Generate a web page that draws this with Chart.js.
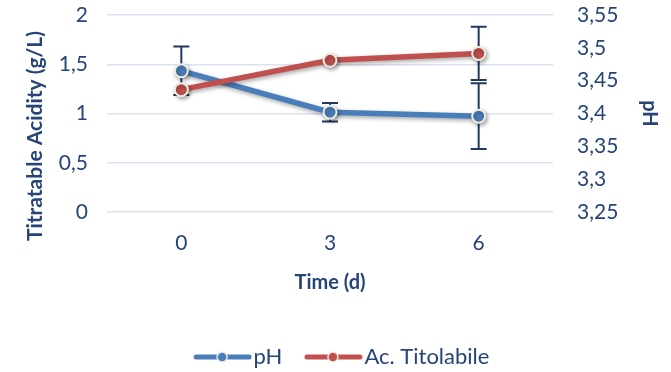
<!DOCTYPE html>
<html>
<head>
<meta charset="UTF-8">
<title>pH / Ac. Titolabile</title>
<style>
  body { margin: 0; background: #fff; }
  #wrap { width: 671px; height: 372px; }
</style>
<script src="https://cdn.jsdelivr.net/npm/chart.js"></script>
</head>
<body>
<div id="wrap"><canvas id="chart" width="671" height="372"></canvas></div>
<script>
// dati
const timeLabels = ['0', '3', '6'];
const phValues = [3.465, 3.402, 3.396];
const phErr = [0.037, 0.014, 0.05];
const acidValues = [1.242, 1.54, 1.61];
const acidErr = [0, 0, 0.27];
const leftTickLabels = ['0', '0,5', '1', '1,5', '2'];
const rightTickLabels = ['3,25', '3,3', '3,35', '3,4', '3,45', '3,5', '3,55'];

const TEXT = '#264478';
const BLUE = '#4a7ebb';
const RED = '#c0504d';
const CREAM = '#eeece1';
const FONT = 'Lato, "Open Sans", sans-serif';
const FS = 21;

// simbolo legenda: linea con pallino, spostato a destra dentro l'immagine
function legendSymbol(color) {
  const c = document.createElement('canvas');
  c.width = 80; c.height = 14;
  const g = c.getContext('2d');
  g.strokeStyle = color; g.lineWidth = 5; g.lineCap = 'round';
  g.beginPath(); g.moveTo(24, 7); g.lineTo(77, 7); g.stroke();
  g.beginPath(); g.arc(50, 7, 5, 0, Math.PI * 2);
  g.fillStyle = color; g.fill();
  g.lineWidth = 1.5; g.strokeStyle = CREAM; g.stroke();
  return c;
}
const symbols = [legendSymbol(BLUE), legendSymbol(RED)];

// barre d'errore disegnate sotto le serie
const errorBars = {
  id: 'errorBars',
  beforeDatasetsDraw(chart) {
    const ctx = chart.ctx;
    const xs = chart.scales.x;
    const sets = [[phValues, phErr, 'y1'], [acidValues, acidErr, 'y']];
    ctx.save();
    ctx.strokeStyle = '#1f3a60';
    ctx.lineWidth = 2;
    sets.forEach(([vals, errs, axis]) => {
      const ys = chart.scales[axis];
      vals.forEach((v, i) => {
        if (!errs[i]) return;
        const px = xs.getPixelForValue(i);
        const top = ys.getPixelForValue(v + errs[i]);
        const bot = ys.getPixelForValue(v - errs[i]);
        ctx.beginPath();
        ctx.moveTo(px, top); ctx.lineTo(px, bot);
        ctx.moveTo(px - 8, top); ctx.lineTo(px + 8, top);
        ctx.moveTo(px - 8, bot); ctx.lineTo(px + 8, bot);
        ctx.stroke();
      });
    });
    ctx.restore();
  }
};

// ombra leggera su linee e marcatori
const shadow = {
  id: 'shadow',
  beforeDatasetDraw(chart) {
    const ctx = chart.ctx;
    ctx.save();
    ctx.shadowColor = 'rgba(0,0,0,0.35)';
    ctx.shadowBlur = 4;
    ctx.shadowOffsetX = 1.5;
    ctx.shadowOffsetY = 2;
  },
  afterDatasetDraw(chart) {
    chart.ctx.restore();
  }
};

// titolo asse sinistro (centrato come nell'originale)
const leftTitle = {
  id: 'leftTitle',
  afterDraw(chart) {
    const ctx = chart.ctx;
    ctx.save();
    ctx.translate(35, 136);
    ctx.rotate(-Math.PI / 2);
    ctx.font = 'bold 21px ' + FONT;
    ctx.fillStyle = TEXT;
    ctx.textAlign = 'center';
    ctx.textBaseline = 'middle';
    ctx.fillText('Titratable Acidity (g/L)', 0, 0);
    ctx.restore();
  }
};

new Chart(document.getElementById('chart'), {
  type: 'line',
  data: {
    labels: timeLabels,
    datasets: [
      {
        label: 'pH',
        data: phValues,
        yAxisID: 'y1',
        order: 1,
        borderColor: BLUE,
        backgroundColor: BLUE,
        borderWidth: 5.5,
        pointRadius: 6.5,
        pointBorderWidth: 2,
        pointBorderColor: CREAM,
        pointBackgroundColor: BLUE,
        tension: 0
      },
      {
        label: 'Ac. Titolabile',
        data: acidValues,
        yAxisID: 'y',
        order: 0,
        borderColor: RED,
        backgroundColor: RED,
        borderWidth: 5.5,
        pointRadius: 6.5,
        pointBorderWidth: 2,
        pointBorderColor: CREAM,
        pointBackgroundColor: RED,
        tension: 0
      }
    ]
  },
  options: {
    responsive: false,
    animation: false,
    layout: { padding: { top: 15, bottom: -6, left: 0, right: 0 } },
    scales: {
      x: {
        offset: true,
        grid: { display: false },
        border: { display: false },
        ticks: { color: TEXT, font: { family: FONT, size: FS }, padding: 11 },
        title: { display: true, text: 'Time (d)', color: TEXT, font: { family: FONT, size: FS - 1, weight: 'bold' }, padding: { top: 2, bottom: 41 } },
        afterFit(s) { s.height = 124; }
      },
      y: {
        position: 'left',
        min: 0, max: 2,
        ticks: {
          stepSize: 0.5,
          color: TEXT,
          font: { family: FONT, size: FS },
          padding: 0,
          callback: (v, i) => leftTickLabels[i]
        },
        grid: { color: '#d9e3f0', lineWidth: 1.5, drawTicks: true, tickLength: 19, tickColor: 'rgba(0,0,0,0)' },
        border: { display: false },
        afterFit(s) { s.width = 107; }
      },
      y1: {
        position: 'right',
        min: 3.25, max: 3.55,
        ticks: {
          stepSize: 0.05,
          color: TEXT,
          font: { family: FONT, size: FS },
          padding: 0,
          callback: (v, i) => rightTickLabels[i]
        },
        grid: { display: false, drawTicks: true, tickLength: 24 },
        border: { display: false },
        title: { display: true, text: 'pH', color: TEXT, font: { family: FONT, size: FS - 1, weight: 'bold' }, padding: 10 },
        afterFit(s) { s.width = 118; }
      }
    },
    plugins: {
      tooltip: { enabled: false },
      legend: {
        position: 'bottom',
        labels: {
          color: TEXT,
          font: { family: FONT, size: 22 },
          usePointStyle: true,
          pointStyleWidth: 61,
          padding: 10,
          sort: (a, b) => a.datasetIndex - b.datasetIndex,
          generateLabels(chart) {
            return Chart.defaults.plugins.legend.labels.generateLabels(chart).map(l => {
              l.pointStyle = symbols[l.datasetIndex];
              return l;
            });
          }
        }
      }
    }
  },
  plugins: [errorBars, shadow, leftTitle]
});
</script>
</body>
</html>
